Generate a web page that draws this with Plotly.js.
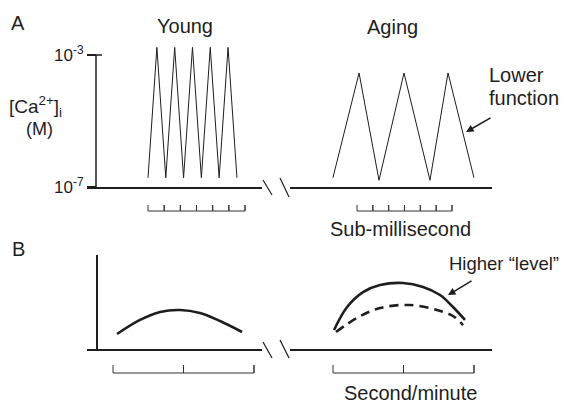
<!DOCTYPE html>
<html><head><meta charset="utf-8">
<script src="https://cdn.plot.ly/plotly-3.0.1.min.js"></script>
<style>body{margin:0;background:#fff}#chart{width:565px;height:403px}</style>
</head><body><div id="chart"></div>
<script>
// ---- Panel A: [Ca2+]i (M) oscillations; time in scale-bar units (sub-millisecond ticks)
const youngTimeA = [0, 0.55, 1.1, 1.65, 2.2, 2.75, 3.3, 3.85, 4.4, 4.95, 5.5];
const youngCaA   = [1.9e-7, 1.7e-3, 1.9e-7, 1.7e-3, 1.9e-7, 1.7e-3, 1.9e-7, 1.7e-3, 1.9e-7, 1.7e-3, 1.9e-7];
const agingTimeA = [-1.52, 0.13, 1.39, 2.97, 4.61, 5.75, 7.39];
const agingCaA   = [1.9e-7, 2.85e-4, 1.6e-7, 2.85e-4, 1.6e-7, 2.85e-4, 1.9e-7];
const scaleTicksA = [0, 1, 2, 3, 4, 5, 6];
const yTickVals = [1e-7, 1e-3];
const yTickText = ['10<sup>-7</sup>', '10<sup>-3</sup>'];

// ---- Panel B: level over seconds/minutes
const youngTimeB  = [0.057, 0.383, 0.667, 0.95, 1.234, 1.518, 1.83];
const youngLevelB = [0.16, 0.309, 0.394, 0.415, 0.383, 0.298, 0.181];
const agingTimeB  = [0.014, 0.2, 0.426, 0.667, 0.993, 1.277, 1.518, 1.702, 1.872];
const agingLevelB = [0.202, 0.447, 0.606, 0.681, 0.702, 0.66, 0.574, 0.447, 0.309];
const agingRefTimeB  = [0.043, 0.34, 0.667, 1.092, 1.475, 1.702, 1.844];
const agingRefLevelB = [0.181, 0.33, 0.436, 0.468, 0.415, 0.351, 0.255];
const scaleTicksB = [0, 1, 2];

const W = 565, H = 403;
const px = v => v / W, py = v => 1 - v / H;
const INK = '#1e1e1e';
const FONT = 'Liberation Sans, Arial, Helvetica, sans-serif';

function scaleBar(ticks) {
  const x = [], y = [];
  ticks.forEach((t, i) => {
    if (i > 0) { x.push(t); y.push(0); }
    x.push(t); y.push(1);
    x.push(t); y.push(0);
  });
  return {x, y};
}
const sbA = scaleBar(scaleTicksA), sbB = scaleBar(scaleTicksB);

const thin = {color: INK, width: 1};
const traces = [
  {x: youngTimeA, y: youngCaA, xaxis: 'x', yaxis: 'y', mode: 'lines', line: thin},
  {x: agingTimeA, y: agingCaA, xaxis: 'x2', yaxis: 'y', mode: 'lines', line: thin},
  {x: sbA.x, y: sbA.y, xaxis: 'x', yaxis: 'y3', mode: 'lines', line: {color: '#333', width: 1}},
  {x: sbA.x, y: sbA.y, xaxis: 'x2', yaxis: 'y3', mode: 'lines', line: {color: '#333', width: 1}},
  {x: youngTimeB, y: youngLevelB, xaxis: 'x3', yaxis: 'y2', mode: 'lines', line: {color: INK, width: 2.6, shape: 'spline'}},
  {x: agingTimeB, y: agingLevelB, xaxis: 'x4', yaxis: 'y2', mode: 'lines', line: {color: INK, width: 2.6, shape: 'spline'}},
  {x: agingRefTimeB, y: agingRefLevelB, xaxis: 'x4', yaxis: 'y2', mode: 'lines', line: {color: INK, width: 2.6, shape: 'spline', dash: '9px,6px'}},
  {x: sbB.x, y: sbB.y, xaxis: 'x3', yaxis: 'y4', mode: 'lines', line: {color: '#333', width: 1}},
  {x: sbB.x, y: sbB.y, xaxis: 'x4', yaxis: 'y4', mode: 'lines', line: {color: '#333', width: 1}}
];

const xBase = {showline: true, linecolor: INK, linewidth: 1.5, showgrid: false, zeroline: false,
  showticklabels: false, ticks: '', fixedrange: true, autorange: false};
const hidden = {visible: false, fixedrange: true, autorange: false};

const layout = {
  width: W, height: H, margin: {l: 0, r: 0, t: 0, b: 0},
  paper_bgcolor: '#fff', plot_bgcolor: 'rgba(0,0,0,0)',
  showlegend: false, hovermode: false,
  font: {family: FONT, color: INK, size: 18},
  xaxis:  Object.assign({}, xBase, {domain: [px(87), px(262)], range: [-3.772, 7.05], anchor: 'y'}),
  xaxis2: Object.assign({}, xBase, {domain: [px(290), px(492)], range: [-4.232, 8.528], anchor: 'y'}),
  xaxis3: Object.assign({}, xBase, {domain: [px(87), px(262)], range: [-0.369, 2.113], anchor: 'y2'}),
  xaxis4: Object.assign({}, xBase, {domain: [px(290), px(492)], range: [-0.61, 2.255], anchor: 'y2'}),
  yaxis: {type: 'log', domain: [py(187), py(44)], range: [-7, -2.667], autorange: false,
    anchor: 'free', position: px(96), showline: false, showgrid: false, zeroline: false,
    ticks: 'outside', ticklen: 9, tickwidth: 1.5, tickcolor: INK,
    tickvals: yTickVals, ticktext: yTickText, tickfont: {size: 17, family: FONT, color: INK}, fixedrange: true},
  yaxis2: {domain: [py(349), py(255)], range: [0, 1], autorange: false,
    anchor: 'free', position: px(96), showline: true, linecolor: INK, linewidth: 1.5,
    showgrid: false, zeroline: false, ticks: '', showticklabels: false, fixedrange: true},
  yaxis3: Object.assign({}, hidden, {domain: [py(214), py(202)], range: [-0.5, 1.5], anchor: 'free', position: 0}),
  yaxis4: Object.assign({}, hidden, {domain: [py(377), py(361)], range: [-0.5, 1.5], anchor: 'free', position: 0}),
  shapes: [
    // panel A y-axis line between 1e-7 and 1e-3, plus inner part of the top tick
    {type: 'line', xref: 'paper', yref: 'y', x0: px(96), x1: px(96), y0: 1e-7, y1: 1e-3, line: {color: INK, width: 1.5}},
    {type: 'line', xref: 'paper', yref: 'y', x0: px(96), x1: px(102), y0: 1e-3, y1: 1e-3, line: {color: INK, width: 1.5}},
    // axis breaks
    {type: 'line', xref: 'paper', yref: 'paper', x0: px(263), y0: py(180), x1: px(272), y1: py(195), line: {color: INK, width: 1.2}},
    {type: 'line', xref: 'paper', yref: 'paper', x0: px(280), y0: py(178), x1: px(289), y1: py(197), line: {color: INK, width: 1.2}},
    {type: 'line', xref: 'paper', yref: 'paper', x0: px(263), y0: py(342), x1: px(272), y1: py(358), line: {color: INK, width: 1.2}},
    {type: 'line', xref: 'paper', yref: 'paper', x0: px(280), y0: py(340), x1: px(289), y1: py(358), line: {color: INK, width: 1.2}}
  ],
  annotations: [
    {text: 'A', x: px(18), y: py(23), size: 20},
    {text: 'B', x: px(18), y: py(249), size: 20},
    {text: 'Young', x: px(185), y: py(26), size: 20},
    {text: 'Aging', x: px(393), y: py(27), size: 20},
    {text: 'Lower', x: px(487), y: py(75), size: 20, xanchor: 'left'},
    {text: 'function', x: px(487), y: py(98), size: 20, xanchor: 'left'},
    {text: 'Sub-millisecond', x: px(400), y: py(229), size: 20},
    {text: '[Ca<sup>2+</sup>]<sub>i</sub>', x: px(7), y: py(106), size: 19, xanchor: 'left'},
    {text: '(M)', x: px(39), y: py(129), size: 18},
    {text: 'Higher \u201clevel\u201d', x: px(504), y: py(263), size: 18.5},
    {text: 'Second/minute', x: px(410), y: py(393), size: 20}
  ].map(a => ({text: a.text, x: a.x, y: a.y, xref: 'paper', yref: 'paper', showarrow: false,
      xanchor: a.xanchor || 'center', yanchor: 'middle', font: {size: a.size, family: FONT, color: INK}}))
  .concat([
    {text: '', xref: 'x2', yref: 'y', x: 6.89, y: -5.333, ax: 26, ay: -15, showarrow: true,
      arrowhead: 2, arrowsize: 1, arrowwidth: 1.5, arrowcolor: INK},
    {text: '', xref: 'x4', yref: 'y2', x: 1.631, y: 0.574, ax: 25, ay: -15, showarrow: true,
      arrowhead: 2, arrowsize: 1, arrowwidth: 1.5, arrowcolor: INK}
  ])
};

Plotly.newPlot('chart', traces, layout, {staticPlot: true, displayModeBar: false});
</script>
</body></html>
